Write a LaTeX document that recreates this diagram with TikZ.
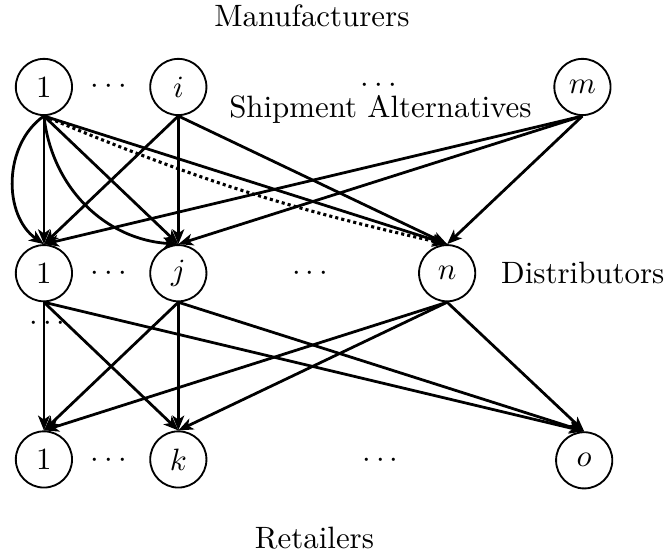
\documentclass[tikz,border=0pt]{standalone}
\usepackage{amssymb}
\usepackage{amsmath}
\usetikzlibrary{arrows,arrows.meta}
\usetikzlibrary{calc,positioning}

\begin{document}
\begin{tikzpicture}[line width=0.9pt,->,>={Stealth[length=4.8pt,width=3.8pt,inset=1.3pt]},node distance=2.12cm]
    \tikzstyle{node}=[circle, minimum size=0.64cm, inner sep=0pt, semithick, draw]
    \tikzstyle{label}=[inner sep=0pt]
    \tikzstyle{alt}=[line width=1pt, dash pattern=on 1pt off 1pt]
    \useasboundingbox (-0.50,-5.36) rectangle (7.07,0.99);

    % manufacturers
    \node[node]           (m1) {1};
    \node[label]   (mdots1) at (0.77,0) {$\cdots$};
    \node[node]           (mi) at (1.53,0) {$i$};
    \node[label]   (mdots2) at (3.84,0.02) {$\cdots$};
    \node[node]           (mm) at (6.13,0) {$m$};
    \node[label]   (manu) at (3.05,0.81) {Manufacturers};
    \node[label]   (ship) at (3.83,-0.26) {Shipment Alternatives};

    % distributors
    \node[node]           (d1) [below of=m1] {1};
    \node[label]   (ddots1) at (0.77,-2.12) {$\cdots$};
    \node[node]           (dj) [below of=mi] {$j$};
    \node[label]   (ddots2) at (3.06,-2.12) {$\cdots$};
    \node[node]           (dn) at (4.59,-2.12) {$n$};
    \node[label,anchor=west] (dist) at (5.19,-2.12) {Distributors};
    \node[label]   (ddots3) at (0.07,-2.69) {$\cdots$};

    % retailers
    \node[node]           (r1) [below of=d1] {1};
    \node[label]   (rdots1) at (0.77,-4.25) {$\cdots$};
    \node[node]           (rk) [below of=dj] {$k$};
    \node[label]   (rdots2) at (3.86,-4.25) {$\cdots$};
    \node[node]           (ro) at (6.15,-4.25) {$o$};
    \node[label]   (reta) at (3.08,-5.14) {Retailers};

    % manufacturer -> distributor
    \path (m1.south) edge (d1.north);
    \path (m1.south) edge [bend right=55] (d1.north);
    \path (m1.south) edge (dj.north);
    \path (m1.south) edge [bend right=40] (dj.north);
    \path (m1.south) edge (dn.north);
    \path (m1.south) edge [alt,bend right=5] (dn.north);
    \path (mi.south) edge (d1.north);
    \path (mi.south) edge (dj.north);
    \path (mi.south) edge (dn.north);
    \path (mm.south) edge (d1.north);
    \path (mm.south) edge (dj.north);
    \path (mm.south) edge (dn.north);

    % distributor -> retailer
    \path (d1.south) edge (r1.north);
    \path (d1.south) edge (rk.north);
    \path (d1.south) edge (ro.north);
    \path (dj.south) edge (r1.north);
    \path (dj.south) edge (rk.north);
    \path (dj.south) edge (ro.north);
    \path (dn.south) edge (r1.north);
    \path (dn.south) edge (rk.north);
    \path (dn.south) edge (ro.north);

  \end{tikzpicture}
\end{document}
